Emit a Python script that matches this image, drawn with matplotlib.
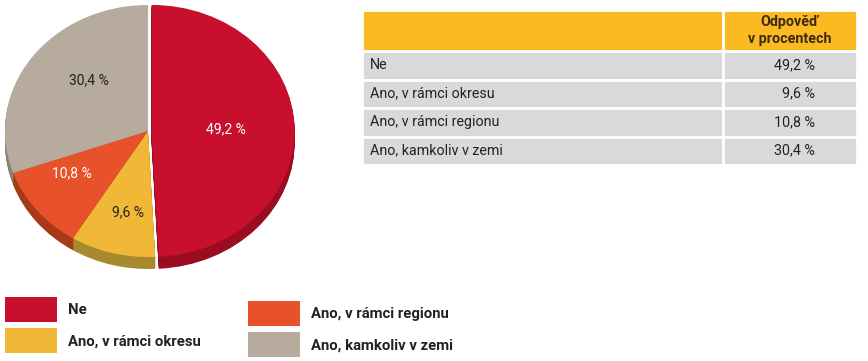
import numpy as np
import matplotlib
matplotlib.use('Agg')
import matplotlib.pyplot as plt
from matplotlib.patches import Patch

categories = ['Ne', 'Ano, v rámci okresu', 'Ano, v rámci regionu', 'Ano, kamkoliv v zemi']
values = [49.2, 9.6, 10.8, 30.4]
value_labels = ['49,2 %', '9,6 %', '10,8 %', '30,4 %']
header = ['', 'Odpověď\nv procentech']

top_colors = ['#C8102E', '#F1B737', '#E8522A', '#B6AB9C']
side_colors = ['#9A0C1F', '#A88A2E', '#A63A18', '#8C8172']
label_colors = ['white', '#222222', 'white', '#222222']
explode = [0.025, 0, 0, 0]
# label placement tweaks (style only)
label_radius = [0.52, 0.66, 0.63, 0.58]
label_angle_shift = [0, 2, -7, -9]

plt.rcParams['font.family'] = ['Roboto', 'DejaVu Sans']

W, H = 868, 361
fig = plt.figure(figsize=(W / 100, H / 100), dpi=100)


def axes_px(x0, y0, x1, y1):
    return fig.add_axes([x0 / W, 1 - y1 / H, (x1 - x0) / W, (y1 - y0) / H])


# ---- 3D-like pie ----
ax = axes_px(0, 0, 300, 275)
depth = 0.095
n = 14
for i in range(n, 0, -1):
    ax.pie(values, colors=side_colors, startangle=90, counterclock=False,
           explode=explode, center=(0, -depth * i / n),
           wedgeprops=dict(linewidth=0), frame=False)
wedges, texts = ax.pie(
    values, colors=top_colors, startangle=90, counterclock=False,
    explode=explode, wedgeprops=dict(linewidth=0), frame=False)
for w, lab, col, r, da in zip(wedges, value_labels, label_colors,
                               label_radius, label_angle_shift):
    mid = np.deg2rad((w.theta1 + w.theta2) / 2 + da)
    cx, cy = w.center
    ax.text(cx + r * np.cos(mid), cy + r * np.sin(mid), lab, color=col,
            fontsize=10, ha='center', va='center')
ax.set_aspect('auto')
ax.set_xlim(-148 / 143, 152 / 143)
ax.set_ylim(-144 / 126, 131 / 126)
ax.axis('off')

# ---- table ----
tax = axes_px(362, 10, 857, 165)
tax.axis('off')
cell_text = [[c, v] for c, v in zip(categories, value_labels)]
tbl = tax.table(cellText=cell_text, colLabels=header, colWidths=[0.729, 0.271],
                bbox=[0, 0, 1, 1])
tbl.auto_set_font_size(False)
tbl.set_fontsize(10.3)
for (r, c), cell in tbl.get_celld().items():
    cell.set_edgecolor('white')
    cell.set_linewidth(2)
    txt = cell.get_text()
    txt.set_color('#222222')
    if r == 0:
        cell.set_facecolor('#FBBA22')
        cell.set_height(0.265)
        txt.set_fontweight('bold')
        txt.set_color('#3A2A10')
        cell._loc = 'center'
        txt.set_ha('center')
        txt.set_multialignment('center')
    else:
        cell.set_facecolor('#D9D9D9')
        cell.set_height(0.184)
        if c == 0:
            cell._loc = 'left'
            cell.PAD = 8 / 361
            txt.set_ha('left')
        else:
            cell._loc = 'right'
            cell.PAD = 42 / 134
            txt.set_ha('right')

# ---- legend (two columns, right one slightly lower) ----
handles = [Patch(facecolor=c, edgecolor='none') for c in top_colors]
common = dict(loc='upper left', frameon=False, handlelength=3.5,
              handleheight=2.18, handletextpad=0.75, labelspacing=0.45,
              borderpad=0, borderaxespad=0, prop=dict(size=10.7, weight='bold'))
leg1 = fig.legend(handles[:2], categories[:2],
                  bbox_to_anchor=(5 / W, 1 - 297 / H), **common)
leg2 = fig.legend(handles[2:], categories[2:],
                  bbox_to_anchor=(248 / W, 1 - 301 / H), **common)
for leg in (leg1, leg2):
    for t in leg.get_texts():
        t.set_color('#222222')

fig.savefig('out.png', dpi=100)
